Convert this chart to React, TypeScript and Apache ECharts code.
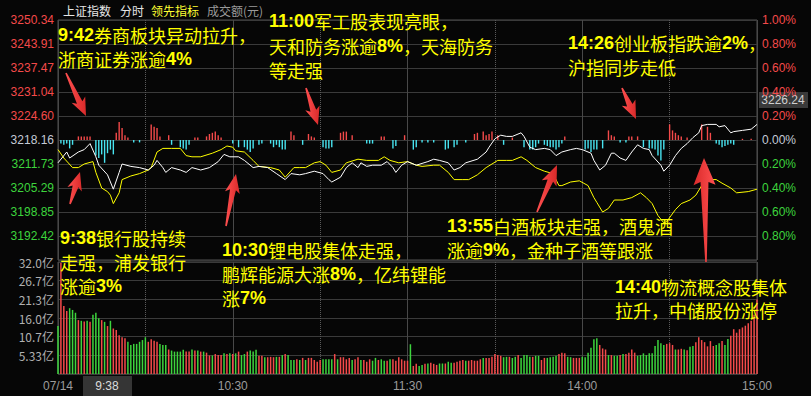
import React, { useEffect, useRef } from 'react';
import * as echarts from 'echarts';

// ---------- axis labels ----------
const priceLabels = ['3192.42', '3198.85', '3205.29', '3211.73', '3218.16', '3224.60', '3231.04', '3237.47', '3243.91', '3250.34'];
const timeLabels: Record<number, string> = { 0: '07/14', 60: '10:30', 120: '11:30', 180: '14:00', 240: '15:00' };

// ---------- index line (white), percent change vs previous close ----------
const whiteMin = [0, 3, 4, 7, 9, 11, 13, 14, 17, 19, 21, 22, 25, 28, 31, 33, 34, 36, 37, 39, 42, 44, 46, 49, 52, 55, 57, 59, 62, 64, 67, 69, 72, 75, 78, 80, 83, 85, 88, 91, 93, 94, 97, 99, 101, 103, 104, 106, 108, 111, 113, 115, 116, 118, 120, 123, 127, 129, 131, 134, 136, 138, 140, 144, 147, 148, 150, 152, 154, 156, 159, 160, 162, 164, 167, 169, 171, 173, 176, 178, 180, 183, 184, 186, 188, 190, 191, 193, 195, 197, 199, 201, 203, 204, 207, 208, 210, 212, 214, 216, 218, 220, 221, 223, 226, 227, 229, 231, 232, 235, 238, 240];
const whiteVal = [-0.19, -0.10, -0.15, -0.10, -0.08, -0.03, -0.14, -0.21, -0.29, -0.41, -0.27, -0.20, -0.22, -0.23, -0.25, -0.21, -0.17, -0.23, -0.27, -0.23, -0.25, -0.27, -0.23, -0.25, -0.23, -0.18, -0.12, -0.14, -0.14, -0.17, -0.23, -0.22, -0.23, -0.28, -0.33, -0.28, -0.29, -0.28, -0.26, -0.28, -0.33, -0.35, -0.31, -0.23, -0.19, -0.23, -0.19, -0.22, -0.21, -0.21, -0.18, -0.23, -0.27, -0.21, -0.18, -0.21, -0.18, -0.16, -0.17, -0.19, -0.25, -0.23, -0.19, -0.16, -0.10, -0.06, 0.01, 0.04, 0.03, 0.03, 0.06, 0.03, -0.06, -0.08, -0.07, -0.08, -0.13, -0.10, -0.08, -0.07, -0.08, -0.11, -0.17, -0.25, -0.21, -0.11, -0.11, -0.15, -0.17, -0.10, -0.04, -0.07, -0.08, -0.13, -0.21, -0.26, -0.21, -0.13, -0.07, -0.03, 0.02, 0.06, 0.12, 0.13, 0.13, 0.11, 0.12, 0.06, 0.07, 0.08, 0.09, 0.13];

// ---------- leading indicator (yellow) ----------
const yellowMin = [0, 2, 5, 7, 9, 12, 13, 15, 17, 18, 19, 21, 22, 25, 28, 31, 32, 34, 36, 39, 42, 44, 46, 49, 53, 56, 58, 60, 61, 64, 67, 69, 73, 76, 78, 81, 83, 85, 88, 90, 92, 94, 97, 99, 103, 106, 110, 112, 114, 117, 120, 123, 125, 129, 131, 134, 136, 139, 141, 144, 147, 151, 154, 156, 159, 161, 164, 167, 170, 172, 173, 176, 179, 182, 184, 185, 187, 189, 191, 194, 197, 200, 202, 204, 206, 208, 209, 212, 214, 217, 219, 221, 223, 226, 228, 231, 233, 237, 240];
const yellowVal = [-0.08, -0.15, -0.23, -0.23, -0.20, -0.18, -0.27, -0.40, -0.43, -0.46, -0.53, -0.44, -0.33, -0.30, -0.28, -0.25, -0.23, -0.10, -0.07, -0.07, -0.07, -0.13, -0.14, -0.14, -0.11, -0.08, -0.05, -0.06, -0.09, -0.10, -0.17, -0.22, -0.23, -0.25, -0.31, -0.23, -0.23, -0.23, -0.19, -0.18, -0.21, -0.27, -0.25, -0.19, -0.16, -0.17, -0.17, -0.14, -0.17, -0.19, -0.18, -0.21, -0.22, -0.21, -0.21, -0.27, -0.33, -0.33, -0.33, -0.29, -0.23, -0.17, -0.17, -0.17, -0.14, -0.17, -0.23, -0.26, -0.28, -0.38, -0.38, -0.35, -0.34, -0.38, -0.48, -0.52, -0.60, -0.57, -0.50, -0.50, -0.48, -0.44, -0.48, -0.53, -0.63, -0.69, -0.68, -0.58, -0.53, -0.50, -0.46, -0.38, -0.33, -0.33, -0.36, -0.40, -0.44, -0.43, -0.41];

// ---------- buy/sell strength histogram around zero ----------
const histMin = [1, 2, 3, 4, 5, 7, 8, 9, 10, 11, 13, 14, 15, 16, 17, 18, 19, 20, 21, 22, 23, 24, 26, 28, 32, 33, 34, 35, 38, 39, 42, 43, 44, 45, 47, 48, 51, 52, 53, 54, 55, 56, 60, 62, 64, 65, 66, 67, 69, 70, 73, 74, 75, 76, 77, 78, 80, 81, 84, 86, 87, 88, 91, 92, 93, 94, 97, 98, 99, 101, 106, 107, 108, 111, 112, 115, 116, 119, 122, 123, 125, 127, 129, 133, 134, 136, 137, 140, 143, 144, 146, 147, 148, 149, 151, 153, 156, 160, 162, 163, 164, 165, 167, 168, 169, 170, 171, 172, 173, 174, 181, 182, 183, 184, 185, 187, 189, 190, 191, 193, 195, 196, 197, 199, 201, 203, 204, 205, 206, 207, 208, 210, 211, 212, 213, 214, 216, 221, 223, 224, 226, 227, 228, 229, 230, 231, 232, 235, 238];
const histVal = [-0.03, -0.04, -0.03, -0.07, -0.04, 0.03, 0.03, 0.03, 0.03, 0.03, -0.13, -0.15, -0.12, -0.19, -0.11, -0.08, -0.12, 0.06, 0.15, 0.10, 0.04, 0.02, -0.02, -0.02, 0.13, 0.11, 0.10, 0.03, 0.04, -0.04, -0.06, -0.07, -0.08, -0.04, 0.02, 0.02, 0.03, 0.05, 0.06, 0.07, 0.04, 0.02, -0.03, -0.06, -0.06, -0.08, -0.10, -0.07, -0.04, -0.03, -0.03, -0.06, -0.04, -0.06, -0.08, -0.08, 0.07, 0.04, -0.04, 0.05, 0.03, 0.02, -0.06, -0.07, -0.07, -0.06, 0.06, 0.07, 0.07, 0.04, -0.03, -0.03, -0.03, 0.03, 0.03, -0.07, -0.05, 0.04, -0.08, -0.06, -0.02, -0.02, -0.02, -0.08, -0.07, -0.06, -0.04, -0.02, 0.05, 0.06, 0.07, 0.04, 0.05, 0.07, 0.04, -0.04, 0.02, -0.06, -0.08, -0.08, -0.06, -0.03, -0.04, -0.05, -0.06, -0.06, -0.08, -0.06, -0.03, 0.03, -0.08, -0.07, -0.10, -0.08, -0.08, -0.07, 0.08, 0.04, 0.03, -0.02, -0.02, 0.03, 0.03, 0.03, -0.06, -0.07, -0.07, -0.08, -0.13, -0.17, -0.08, 0.13, 0.08, 0.06, 0.04, 0.03, 0.02, 0.13, 0.11, 0.06, -0.03, -0.04, -0.06, -0.05, -0.04, -0.03, -0.04, 0.01, 0.01];

// ---------- turnover (亿), one bar per minute; r = up minute, g = down minute ----------
const volA = [13.7, 31.8, 19.4, 18.0, 18.8, 18.3, 17.5, 15.4, 15.2, 15.0, 15.2, 14.9, 16.9, 17.5, 15.9, 15.4, 14.9, 13.7, 15.2, 13.0, 12.6, 11.1, 10.5, 10.2, 9.2, 8.3, 8.6, 8.6, 9.2, 9.7, 10.5, 9.2, 9.9, 9.5, 9.2, 8.6, 8.3, 8.3, 7.0, 6.7, 6.4, 6.4, 6.4, 6.9, 6.4, 6.4, 7.0, 6.7, 6.7, 6.4, 6.4, 6.1, 5.3, 5.3, 5.7, 5.4, 5.4, 5.9, 5.7, 5.9, 5.7, 5.9, 6.4, 5.4, 5.7, 6.4, 6.7, 6.4, 6.9, 5.2, 5.2, 4.8, 4.8];
const dirA = 'grrrggg' + 'rgrgrgggrgr' + 'grrrrr' + 'ggggggg' + 'rrrr' + 'ggg' + 'r' + 'ggggg' + 'rr' + 'grgrg' + 'rrgrrr' + 'grgrgr' + 'ggrgggrrgr';
const volB = [4.9, 4.8, 4.9, 4.9, 5.4, 5.7, 5.4, 4.0, 4.0, 4.2, 4.0, 4.6, 4.0, 4.6, 4.6, 4.0, 3.5, 4.0, 4.2, 4.2, 4.2, 4.2, 5.7, 4.2, 4.8, 4.8, 4.2, 4.6, 4.0, 4.2, 4.8, 4.0, 4.0, 3.5, 4.2, 3.8, 4.6, 4.0, 4.2, 3.8, 3.8, 4.2, 4.2, 3.8, 4.8, 4.2, 3.8, 3.8, 8.5, 2.3, 2.9, 2.3, 2.6, 2.9, 3.0, 3.2, 2.9, 2.6, 3.0, 3.0, 3.0, 3.5, 3.2, 3.2, 3.5, 3.8, 4.0, 3.8, 3.8, 4.0, 3.8, 3.8, 4.2, 4.6, 4.6, 4.6, 4.9, 5.7, 5.4, 5.2, 4.8, 4.9, 4.9, 4.6, 4.9, 5.4, 4.6, 5.4, 5.4, 4.9, 4.9, 5.2, 5.2];
const dirB = 'rrgrgrgggr' + 'grgrrrrrgg' + 'ggrgrrrrgr' + 'rgrrrggrgg' + 'rgrrrrrrgr' + 'rggrgrrrgg' + 'rggrrrrgrr' + 'rrrgrrrrrr' + 'ggrggrgggg' + 'rgg';
const volC = [4.0, 4.6, 4.6, 4.8, 4.9, 5.2, 5.7, 6.1, 5.9, 4.9, 4.8, 4.6, 4.6, 4.6, 4.9, 4.8, 6.1, 7.5, 9.9, 10.2, 8.3, 7.3, 7.0, 5.4, 5.4, 5.2, 5.2, 5.4, 5.7, 5.7, 6.1, 7.0, 6.1, 5.2, 5.4, 5.9, 5.4, 5.9, 5.9, 8.0, 9.7, 8.8, 8.3, 8.6, 8.8, 8.3, 7.0, 7.0, 7.2, 7.0, 6.8, 7.8, 8.0, 9.1, 10.5, 9.7, 9.1, 7.9, 9.4, 8.0, 8.3, 8.8, 9.4, 8.3, 10.0, 10.9, 12.8, 11.8, 12.8, 13.3, 13.8, 14.5, 15.2, 16.9, 21.3];
const dirC = 'rrggggrrrgg' + 'rrr' + 'g' + 'ggggg' + 'rrr' + 'g' + 'r' + 'gg' + 'r' + 'g' + 'rrrr' + 'gggggggggg' + 'rrr' + 'g' + 'rr' + 'g' + 'r' + 'gg' + 'rrrrrrr' + 'gg' + 'r' + 'gg' + 'rrrrrrrrrr';

// ---------- annotations ----------
const notes = [
  { x: 58, y: 35, text: '{b|9:42}券商板块异动拉升，' },
  { x: 58, y: 59, text: '浙商证券涨逾{b|4%}' },
  { x: 269, y: 21, text: '{b|11:00}军工股表现亮眼，' },
  { x: 269, y: 46, text: '天和防务涨逾{b|8%}，天海防务' },
  { x: 269, y: 70, text: '等走强' },
  { x: 568, y: 43, text: '{b|14:26}创业板指跌逾{b|2%}，' },
  { x: 568, y: 67, text: '沪指同步走低' },
  { x: 60, y: 238, text: '{b|9:38}银行股持续' },
  { x: 60, y: 262, text: '走强，浦发银行' },
  { x: 60, y: 286, text: '涨逾{b|3%}' },
  { x: 222, y: 250, text: '{b|10:30}锂电股集体走强，' },
  { x: 222, y: 274, text: '鹏辉能源大涨{b|8%}，亿纬锂能' },
  { x: 222, y: 298, text: '涨{b|7%}' },
  { x: 447, y: 226, text: '{b|13:55}白酒板块走强，酒鬼酒' },
  { x: 447, y: 250, text: '涨逾{b|9%}，金种子酒等跟涨' },
  { x: 615, y: 287, text: '{b|14:40}物流概念股集体' },
  { x: 615, y: 310, text: '拉升，中储股份涨停' },
];

const RED = '#f44a4a';
const GREEN = '#3dd43d';
const CYAN = '#48e4f0';
const GRID = '#3a3a3a';
const CJK = '"Noto Sans CJK SC", sans-serif';
const NUM = 'Arial, "Liberation Sans", sans-serif';

function arrow(tx: number, ty: number, px: number, py: number, hw: number, hl: number, sw: number) {
  const dx = px - tx, dy = py - ty;
  const L = Math.hypot(dx, dy);
  const ux = dx / L, uy = dy / L;
  const nx = -uy, ny = ux;
  const bx = px - ux * hl, by = py - uy * hl;
  const pts = [
    [tx + nx * 0.8, ty + ny * 0.8],
    [bx + nx * sw / 2, by + ny * sw / 2],
    [bx + nx * hw / 2 - ux * 3, by + ny * hw / 2 - uy * 3],
    [px, py],
    [bx - nx * hw / 2 - ux * 3, by - ny * hw / 2 - uy * 3],
    [bx - nx * sw / 2, by - ny * sw / 2],
    [tx - nx * 0.8, ty - ny * 0.8],
  ];
  return {
    type: 'polygon',
    shape: { points: pts },
    style: {
      fill: new echarts.graphic.LinearGradient(tx < px ? 0 : 1, 0, tx < px ? 1 : 0, 0, [
        { offset: 0, color: '#ff5050' },
        { offset: 1, color: '#d92a2a' },
      ]),
    },
    z: 100,
  };
}

export default function App() {
  const ref = useRef<HTMLDivElement>(null);
  useEffect(() => {
    document.body.style.margin = '0';
    document.body.style.background = '#000';
    const chart = echarts.init(ref.current!, null, { renderer: 'svg' });

    const vols = volA.concat(volB, volC);
    const dirs = dirA + dirB + dirC;
    const volData = vols.map((v, i) => ({ value: [i, v], itemStyle: { color: dirs[i] === 'r' ? RED : GREEN } }));
    const histData = histMin.map((m, i) => ({ value: [m, histVal[i]], itemStyle: { color: histVal[i] >= 0 ? RED : CYAN } }));

    const baseX = {
      type: 'value', min: 0, max: 240,
      axisLine: { show: false }, axisTick: { show: false },
    };
    const pctColor = (v: any) => {
      const n = Number(v);
      return n > 0.001 ? RED : n < -0.001 ? GREEN : '#c4cad6';
    };

    const graphics: any[] = [
      { type: 'text', x: 63, y: 10, style: { text: '上证指数', fill: '#e6e6e6', fontSize: 12, fontFamily: CJK, textVerticalAlign: 'middle' } },
      { type: 'text', x: 120, y: 10, style: { text: '分时', fill: '#e6e6e6', fontSize: 12, fontFamily: CJK, textVerticalAlign: 'middle' } },
      { type: 'text', x: 151, y: 10, style: { text: '领先指标', fill: '#ffff33', fontSize: 12, fontFamily: CJK, textVerticalAlign: 'middle' } },
      { type: 'text', x: 207, y: 10, style: { text: '成交额(元)', fill: '#9a9a9a', fontSize: 12, fontFamily: CJK, textVerticalAlign: 'middle' } },
      { type: 'rect', shape: { x: 759, y: 92, width: 49, height: 16 }, style: { fill: '#3a3a3a' } },
      { type: 'text', x: 783, y: 100, style: { text: '3226.24', fill: '#d0d0d0', fontSize: 12, fontFamily: NUM, textAlign: 'center', textVerticalAlign: 'middle' } },
      { type: 'rect', shape: { x: 83, y: 376, width: 49, height: 20 }, style: { fill: '#353535' } },
      { type: 'text', x: 107, y: 386, style: { text: '9:38', fill: '#dcdcdc', fontSize: 12, fontFamily: NUM, textAlign: 'center', textVerticalAlign: 'middle' } },
      arrow(66, 73, 86, 116, 15, 15, 6),
      arrow(306, 88, 318, 125, 15, 15, 6),
      arrow(622, 88, 636, 119, 15, 15, 6),
      arrow(70, 204, 80, 172, 15, 15, 6),
      arrow(226, 226, 236, 174, 15, 16, 6),
      arrow(537, 212, 557, 165, 16, 17, 6),
      arrow(706, 262, 704, 158, 22, 24, 8),
    ];
    notes.forEach((n) => {
      graphics.push({
        type: 'text', x: n.x, y: n.y, z: 90,
        style: {
          text: n.text, fill: '#ffff00', fontSize: 18, fontFamily: CJK, textVerticalAlign: 'middle',
          rich: { b: { fill: '#ffff00', fontSize: 18, fontWeight: 'bold', fontFamily: NUM } },
        },
      });
    });

    chart.setOption({
      animation: false,
      backgroundColor: '#060606',
      grid: [
        { left: 58, top: 20, width: 699, height: 240, show: true, borderColor: '#505050', borderWidth: 1, backgroundColor: 'transparent' },
        { left: 58, top: 262, width: 699, height: 112, show: true, borderColor: '#505050', borderWidth: 1, backgroundColor: 'transparent' },
      ],
      xAxis: [
        { ...baseX, gridIndex: 0, interval: 30, axisLabel: { show: false }, splitLine: { show: true, lineStyle: { color: '#5a5a5a', type: 'dotted' } } },
        { ...baseX, gridIndex: 0, interval: 60, axisLabel: { show: false }, splitLine: { show: true, lineStyle: { color: '#484848' } } },
        {
          ...baseX, gridIndex: 1, interval: 30,
          splitLine: { show: true, lineStyle: { color: '#5a5a5a', type: 'dotted' } },
          axisLabel: { show: true, margin: 6, fontSize: 12, fontFamily: NUM, color: '#9c9c9c', formatter: (v: number) => timeLabels[Math.round(v)] || '' },
        },
        { ...baseX, gridIndex: 1, interval: 60, axisLabel: { show: false }, splitLine: { show: true, lineStyle: { color: '#484848' } } },
      ],
      yAxis: [
        {
          gridIndex: 0, type: 'value', min: -1, max: 1, interval: 0.2, position: 'left',
          axisLine: { show: false }, axisTick: { show: false },
          splitLine: { show: true, lineStyle: { color: GRID } },
          axisLabel: {
            margin: 4, fontSize: 12, fontFamily: NUM, color: pctColor,
            formatter: (v: number) => { const k = Math.round((v + 1) / 0.2) - 1; return k >= 0 ? priceLabels[k] : ''; },
          },
        },
        {
          gridIndex: 0, type: 'value', min: -1, max: 1, interval: 0.2, position: 'right',
          axisLine: { show: false }, axisTick: { show: false }, splitLine: { show: false },
          axisLabel: {
            margin: 5, fontSize: 12, fontFamily: NUM, color: pctColor,
            formatter: (v: number) => (v < -0.99 ? '' : Math.abs(v).toFixed(2) + '%'),
          },
        },
        {
          gridIndex: 1, type: 'value', min: 0, max: 32, interval: 32 / 6, position: 'left',
          axisLine: { show: false }, axisTick: { show: false },
          splitLine: { show: true, lineStyle: { color: GRID } },
          axisLabel: {
            margin: 4, fontSize: 12, fontFamily: CJK, color: '#b0b0b0',
            formatter: (v: number) => (v < 0.01 ? '' : (v < 10 ? v.toFixed(2) : v.toFixed(1)) + '亿'),
          },
        },
      ],
      series: [
        { type: 'bar', xAxisIndex: 0, yAxisIndex: 0, barWidth: 1.4, data: histData, silent: true },
        {
          type: 'line', xAxisIndex: 0, yAxisIndex: 0, showSymbol: false, silent: true,
          lineStyle: { color: '#ffff00', width: 1 }, data: yellowMin.map((m, i) => [m, yellowVal[i]]), z: 3,
        },
        {
          type: 'line', xAxisIndex: 0, yAxisIndex: 0, showSymbol: false, silent: true,
          lineStyle: { color: '#ffffff', width: 1 }, data: whiteMin.map((m, i) => [m, whiteVal[i]]), z: 4,
        },
        { type: 'bar', xAxisIndex: 2, yAxisIndex: 2, barWidth: 1.5, data: volData, silent: true },
      ],
      graphic: graphics,
    });
    return () => chart.dispose();
  }, []);
  return <div ref={ref} style={{ position: 'absolute', left: 0, top: 0, width: 811, height: 396, background: '#060606' }} />;
}
